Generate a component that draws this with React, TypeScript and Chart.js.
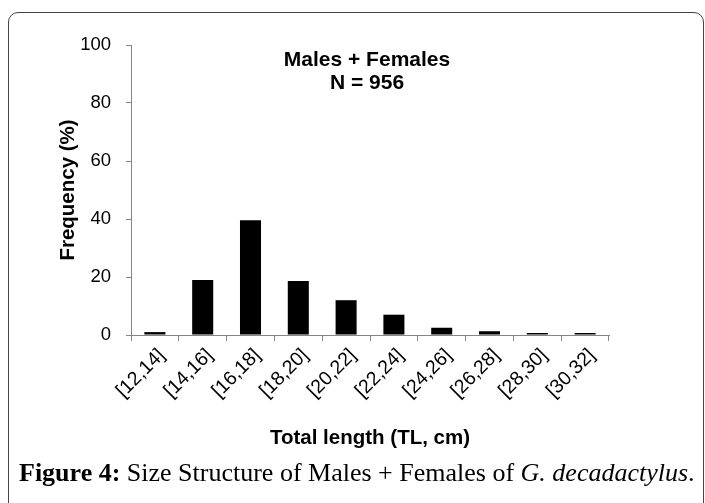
import React, { useEffect, useRef } from "react";
import { Chart, registerables } from "chart.js";

Chart.register(...registerables);

const categories = ["[12,14]", "[14,16]", "[16,18]", "[18,20]", "[20,22]", "[22,24]", "[24,26]", "[26,28]", "[28,30]", "[30,32]"];
const frequency = [1.0, 19.0, 39.6, 18.6, 12.0, 7.0, 2.5, 1.3, 0.7, 0.7];
const titleLines = ["Males + Females", "N = 956"];
const xTitle = "Total length (TL, cm)";
const yTitle = "Frequency (%)";

const SANS = "'Liberation Sans', Arial, sans-serif";
const AXIS = "#858585";

const innerTitle = {
  id: "innerTitle",
  afterDraw(chart: any) {
    const { ctx, chartArea } = chart;
    ctx.save();
    ctx.fillStyle = "#000";
    ctx.font = `bold 21px ${SANS}`;
    ctx.textAlign = "center";
    ctx.textBaseline = "middle";
    const cx = (chartArea.left + chartArea.right) / 2 - 3;
    ctx.fillText(titleLines[0], cx, chartArea.top + 15);
    ctx.fillText(titleLines[1], cx, chartArea.top + 38);
    ctx.restore();
  },
};

export default function App() {
  const ref = useRef<HTMLCanvasElement | null>(null);
  useEffect(() => {
    if (!ref.current) return;
    const chart = new Chart(ref.current, {
      type: "bar",
      data: {
        labels: categories,
        datasets: [
          {
            data: frequency,
            backgroundColor: "#000",
            borderWidth: 0,
            barPercentage: 0.44,
            categoryPercentage: 1,
          },
        ],
      },
      options: {
        responsive: false,
        animation: false,
        layout: { padding: { top: 45, right: 96, left: 52, bottom: 52 } },
        plugins: { legend: { display: false }, tooltip: { enabled: false }, title: { display: false } },
        scales: {
          x: {
            grid: { drawOnChartArea: false, drawTicks: true, tickLength: 6, color: AXIS, offset: true },
            border: { display: true, color: AXIS, width: 1 },
            ticks: {
              color: "#000",
              font: { family: SANS, size: 19.5 },
              maxRotation: 45,
              minRotation: 45,
              autoSkip: false,
              padding: 3,
              labelOffset: 7,
            },
            title: {
              display: true,
              text: xTitle,
              color: "#000",
              font: { family: SANS, size: 20.5, weight: "bold" },
              padding: { top: 4, bottom: 0 },
            },
            afterFit(scale: any) {
              scale.height = 503 - 52 - 335;
            },
          },
          y: {
            min: 0,
            max: 100,
            ticks: { stepSize: 20, color: "#000", font: { family: SANS, size: 18.5 }, padding: 15 },
            grid: { drawOnChartArea: false, drawTicks: true, tickLength: 5, color: AXIS },
            border: { display: true, color: AXIS, width: 1 },
            title: {
              display: true,
              text: yTitle,
              color: "#000",
              font: { family: SANS, size: 20.5, weight: "bold" },
              padding: { top: 4, bottom: 4 },
            },
            afterFit(scale: any) {
              scale.width = 131 - 52;
            },
          },
        },
      },
      plugins: [innerTitle],
    });
    return () => chart.destroy();
  }, []);

  return (
    <div style={{ position: "absolute", left: 0, top: 0, width: 705, height: 503, overflow: "hidden", background: "#fff" }}>
      <div
        style={{
          position: "absolute",
          left: 8,
          top: 12,
          width: 696,
          height: 520,
          border: "1px solid #444",
          borderRadius: 10,
          boxSizing: "border-box",
        }}
      />
      <canvas ref={ref} width={705} height={503} style={{ position: "absolute", left: 0, top: 0 }} />
      <div
        style={{
          position: "absolute",
          left: 19,
          top: 458,
          fontFamily: "'Liberation Serif', 'Times New Roman', serif",
          fontSize: 26,
          color: "#000",
          whiteSpace: "nowrap",
        }}
      >
        <b>Figure 4:</b> Size Structure of Males + Females of <i>G. decadactylus</i>.
      </div>
    </div>
  );
}
